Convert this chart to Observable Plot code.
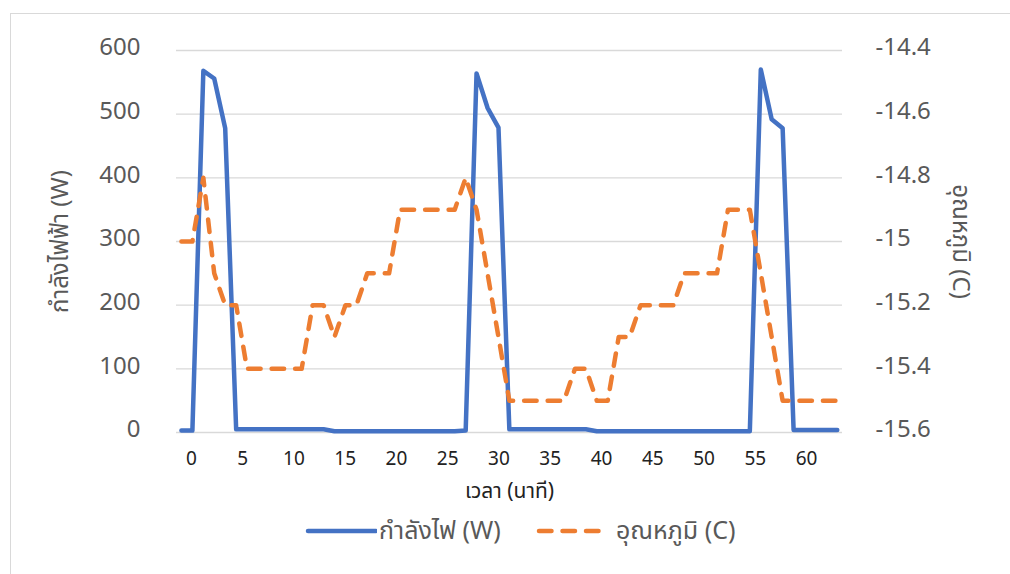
<!DOCTYPE html>
<html>
<head>
<meta charset="utf-8">
<script src="https://cdn.jsdelivr.net/npm/d3@7"></script>
<script src="https://cdn.jsdelivr.net/npm/@observablehq/plot@0.6"></script>
<style>
  html, body { margin: 0; padding: 0; background: #fff; }
  body { width: 1010px; height: 574px; overflow: hidden; position: relative;
         font-family: "Noto Sans Thai", "Leelawadee UI", "Noto Sans", sans-serif; }
  #frame { position: absolute; left: 10px; top: 13px; width: 1100px; height: 700px;
           border: 1px solid #d9d9d9; box-sizing: border-box; }
  #chart { position: absolute; left: 0; top: 0; }
  #legend { position: absolute; left: 0; top: 511px; width: 1010px; height: 40px;
            font-size: 25px; color: #595959; }
  #legend .item { position: absolute; top: 0; height: 40px; display: flex; align-items: center; }
  #legend svg { display: block; }
</style>
</head>
<body>
<div id="frame"></div>
<div id="chart"></div>
<div id="legend"></div>
<script>
// Sample times (minutes), one per logged reading
const times = [
  -0.98, 0.09, 1.16, 2.22, 3.29, 4.36, 5.42, 6.49, 7.55, 8.62,
  9.69, 10.75, 11.82, 12.89, 13.95, 15.02, 16.09, 17.15, 18.22, 19.28,
  20.35, 21.42, 22.48, 23.55, 24.62, 25.68, 26.75, 27.81, 28.88, 29.95,
  31.01, 32.08, 33.15, 34.21, 35.28, 36.34, 37.41, 38.48, 39.54, 40.61,
  41.68, 42.74, 43.81, 44.87, 45.94, 47.01, 48.07, 49.14, 50.21, 51.27,
  52.34, 53.41, 54.47, 55.54, 56.60, 57.67, 58.74, 59.80, 60.87, 61.94,
  63.00
];

// Electric power draw (W)
const powerW = [
  3, 3, 568, 556, 478, 5, 5, 5, 5, 5,
  5, 5, 5, 5, 2, 2, 2, 2, 2, 2,
  2, 2, 2, 2, 2, 2, 3, 564, 510, 479,
  5, 5, 5, 5, 5, 5, 5, 5, 2, 2,
  2, 2, 2, 2, 2, 2, 2, 2, 2, 2,
  2, 2, 2, 570, 492, 478, 4, 4, 4, 4,
  4
];

// Temperature (C)
const tempC = [
  -15.0, -15.0, -14.8, -15.1, -15.2, -15.2, -15.4, -15.4, -15.4, -15.4,
  -15.4, -15.4, -15.2, -15.2, -15.3, -15.2, -15.2, -15.1, -15.1, -15.1,
  -14.9, -14.9, -14.9, -14.9, -14.9, -14.9, -14.8, -14.9, -15.1, -15.3,
  -15.5, -15.5, -15.5, -15.5, -15.5, -15.5, -15.4, -15.4, -15.5, -15.5,
  -15.3, -15.3, -15.2, -15.2, -15.2, -15.2, -15.1, -15.1, -15.1, -15.1,
  -14.9, -14.9, -14.9, -15.1, -15.3, -15.5, -15.5, -15.5, -15.5, -15.5,
  -15.5
];

// Axis ticks and texts
const xTicks = [0, 5, 10, 15, 20, 25, 30, 35, 40, 45, 50, 55, 60];
const powerTicks = [0, 100, 200, 300, 400, 500, 600];
const tempTicks = [-15.6, -15.4, -15.2, -15.0, -14.8, -14.6, -14.4];
const xTitle = "เวลา (นาที)";
const powerTitle = "กำลังไฟฟ้า (W)";
const tempTitle = "อุณหภูมิ (C)";
const seriesNames = ["กำลังไฟ (W)", "อุณหภูมิ (C)"];

const blue = "#4472C4";
const orange = "#ED7D31";
const grey = "#595959";
const dash = "12.5,11";

// Temperature shares the power scale: -15.6..-14.4 C spans 0..600 W
const tempToPower = d3.scaleLinear([tempTicks[0], tempTicks[tempTicks.length - 1]],
                                   [powerTicks[0], powerTicks[powerTicks.length - 1]]);

const powerRows = times.map((t, i) => ({t, w: powerW[i]}));
const tempRows = times.map((t, i) => ({t, c: tempC[i]}));

const fontFamily = "\"Noto Sans Thai\", \"Leelawadee UI\", \"Noto Sans\", sans-serif";

const chart = Plot.plot({
  width: 1010,
  height: 505,
  marginTop: 50,
  marginBottom: 73,
  marginLeft: 176,
  marginRight: 168,
  style: {fontFamily, background: "transparent", overflow: "visible"},
  x: {domain: [-1.46, 63.51]},
  y: {domain: [0, 600]},
  marks: [
    Plot.gridY(powerTicks, {stroke: "#d9d9d9", strokeOpacity: 1, strokeWidth: 1.4}),
    Plot.axisY(powerTicks, {anchor: "left", tickSize: 0, tickPadding: 36, fontSize: 24,
                            fill: grey, dy: -3, label: null}),
    Plot.axisY(tempTicks.map(tempToPower), {
      anchor: "right", tickSize: 0, tickPadding: 33, fontSize: 24, fill: grey, dy: -3, label: null,
      tickFormat: d => String(+tempToPower.invert(d).toFixed(1))
    }),
    Plot.axisX(xTicks, {anchor: "bottom", tickSize: 0, tickPadding: 19, fontSize: 19,
                        fill: "#222", label: null}),
    Plot.text([powerTitle], {frameAnchor: "left", dx: -116, rotate: -90, fontSize: 24,
                             textAnchor: "middle", lineAnchor: "middle", fill: grey, text: d => d}),
    Plot.text([tempTitle], {frameAnchor: "right", dx: 118, rotate: 90, fontSize: 24,
                            textAnchor: "middle", lineAnchor: "middle", fill: grey, text: d => d}),
    Plot.text([xTitle], {frameAnchor: "bottom", dy: 59, fontSize: 21, fill: "#222",
                         textAnchor: "middle", lineAnchor: "middle", text: d => d}),
    Plot.line(powerRows, {x: "t", y: "w", stroke: blue, strokeWidth: 4.5,
                          strokeLinejoin: "round", strokeLinecap: "round"}),
    Plot.line(tempRows, {x: "t", y: d => tempToPower(d.c), stroke: orange, strokeWidth: 4.5,
                         strokeDasharray: dash, strokeLinejoin: "round", strokeLinecap: "round"})
  ]
});
document.getElementById("chart").append(chart);

// Legend below the plot
const legend = d3.select("#legend");
const swatches = [
  {name: seriesNames[0], color: blue, dashed: false, left: 305},
  {name: seriesNames[1], color: orange, dashed: true, left: 536}
];
swatches.forEach(s => {
  const item = legend.append("div").attr("class", "item").style("left", s.left + "px");
  const sw = item.append("svg").attr("width", 72).attr("height", 12);
  sw.append("line").attr("x1", 3).attr("x2", s.dashed ? 66 : 71).attr("y1", 6).attr("y2", 6)
    .attr("stroke", s.color).attr("stroke-width", 4.5).attr("stroke-linecap", "round")
    .attr("stroke-dasharray", s.dashed ? dash : null);
  item.append("span").style("margin-left", s.dashed ? "8px" : "2px").text(s.name);
});
</script>
</body>
</html>
